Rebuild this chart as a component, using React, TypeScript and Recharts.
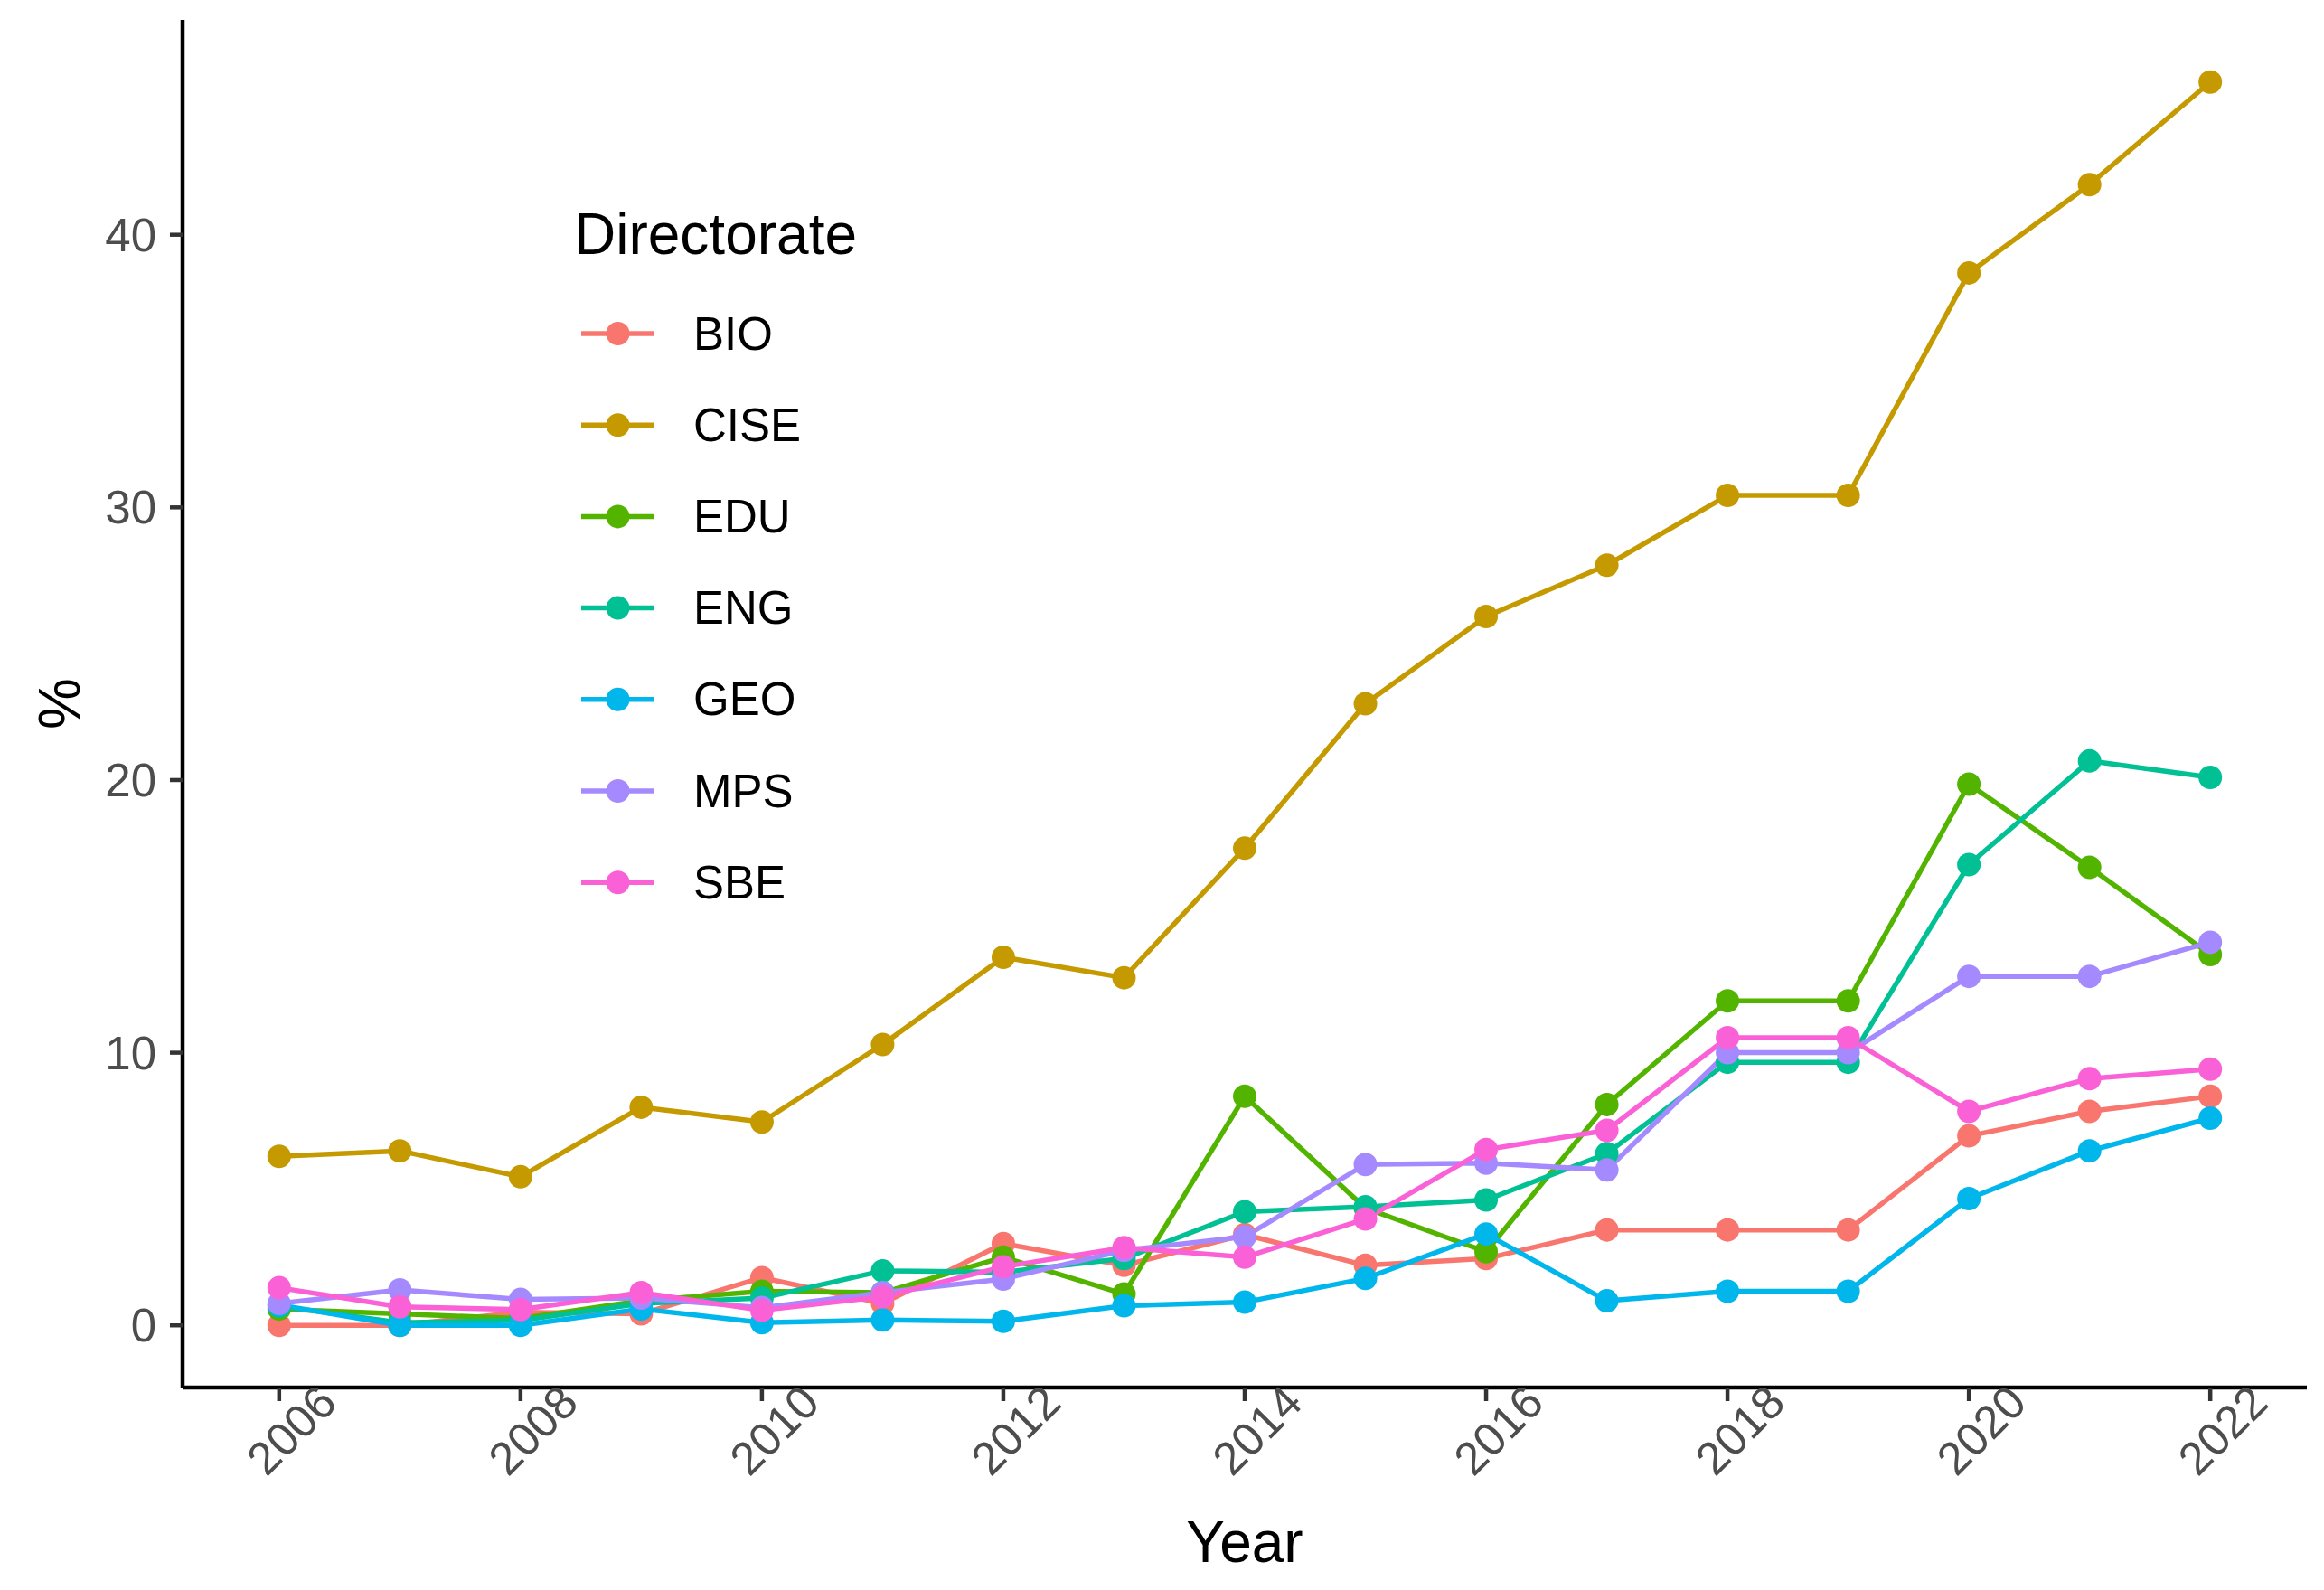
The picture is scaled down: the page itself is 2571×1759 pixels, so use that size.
import React from 'react';
import { LineChart, Line, XAxis, YAxis, Legend } from 'recharts';

const FONT = '"Liberation Sans", Arial, Helvetica, sans-serif';

const YEARS = [2006, 2007, 2008, 2009, 2010, 2011, 2012, 2013, 2014, 2015, 2016, 2017, 2018, 2019, 2020, 2021, 2022];
const X_TICKS = [2006, 2008, 2010, 2012, 2014, 2016, 2018, 2020, 2022];
const Y_TICKS = [0, 10, 20, 30, 40];

const BIO = [0, 0, 0.48, 0.42, 1.75, 0.8, 3.0, 2.2, 3.33, 2.2, 2.45, 3.5, 3.5, 3.5, 6.95, 7.85, 8.4];
const CISE = [6.2, 6.4, 5.45, 8.0, 7.46, 10.3, 13.5, 12.75, 17.5, 22.8, 26.0, 27.88, 30.44, 30.44, 38.6, 41.84, 45.6];
const EDU = [0.6, 0.42, 0.25, 0.9, 1.25, 1.2, 2.5, 1.15, 8.4, 4.3, 2.7, 8.1, 11.9, 11.9, 19.85, 16.8, 13.6];
const ENG = [0.7, 0.1, 0.18, 0.8, 1.0, 2.0, 1.95, 2.45, 4.17, 4.35, 4.6, 6.3, 9.65, 9.65, 16.9, 20.7, 20.1];
const GEO = [0.75, 0, 0, 0.6, 0.1, 0.2, 0.15, 0.72, 0.85, 1.72, 3.35, 0.9, 1.25, 1.25, 4.65, 6.4, 7.6];
const MPS = [0.8, 1.3, 0.95, 1.0, 0.65, 1.2, 1.7, 2.75, 3.25, 5.9, 5.95, 5.7, 10.0, 10.0, 12.8, 12.8, 14.05];
const SBE = [1.38, 0.68, 0.58, 1.2, 0.55, 1.05, 2.15, 2.85, 2.5, 3.9, 6.45, 7.15, 10.55, 10.55, 7.85, 9.05, 9.4];

const SERIES = [
  { key: 'BIO', color: '#F8766D', values: BIO },
  { key: 'CISE', color: '#C49A00', values: CISE },
  { key: 'EDU', color: '#53B400', values: EDU },
  { key: 'ENG', color: '#00C094', values: ENG },
  { key: 'GEO', color: '#00B6EB', values: GEO },
  { key: 'MPS', color: '#A58AFF', values: MPS },
  { key: 'SBE', color: '#FB61D7', values: SBE },
];

const data = YEARS.map((year, i) => {
  const row: Record<string, number> = { year };
  SERIES.forEach((s) => {
    row[s.key] = s.values[i];
  });
  return row;
});

const W = 2560;
const H = 1750;
const LINE_W = 5.5;
const DOT_R = 13;

const XTick = (props: any) => {
  const { x, y, payload } = props;
  return (
    <g transform={`translate(${x},${y})`}>
      <text
        transform="rotate(-45)"
        x={-13}
        y={50}
        textAnchor="middle"
        fill="#4D4D4D"
        fontSize={51}
        fontFamily={FONT}
      >
        {payload.value}
      </text>
    </g>
  );
};

const LegendBox = () => (
  <svg width={W} height={H} style={{ position: 'absolute', left: 0, top: 0, pointerEvents: 'none' }}>
    <text x={635} y={281} fontSize={64} fontFamily={FONT} fill="#000">
      Directorate
    </text>
    {SERIES.map((s, i) => {
      const cy = 369 + i * 101.2;
      return (
        <g key={s.key}>
          <line x1={643} x2={724} y1={cy} y2={cy} stroke={s.color} strokeWidth={LINE_W} />
          <circle cx={683.5} cy={cy} r={DOT_R} fill={s.color} />
          <text x={767} y={cy} dominantBaseline="central" fontSize={51} fontFamily={FONT} fill="#000">
            {s.key}
          </text>
        </g>
      );
    })}
  </svg>
);

export default function App() {
  return (
    <div style={{ position: 'absolute', left: 0, top: 0, width: W, height: H, background: '#fff' }}>
      <LineChart
        width={W}
        height={H}
        data={data}
        margin={{ top: 22, right: 8, left: 0, bottom: 15 }}
      >
        <XAxis
          dataKey="year"
          type="number"
          domain={[2005.2, 2022.8]}
          ticks={X_TICKS}
          allowDataOverflow
          height={200}
          tickSize={15}
          tickMargin={0}
          tick={<XTick />}
          axisLine={{ stroke: '#000', strokeWidth: 4.5 }}
          tickLine={{ stroke: '#333', strokeWidth: 4.5 }}
          label={{
            position: 'bottom',
            content: () => (
              <text x={1377} y={1728} textAnchor="middle" fontSize={64} fontFamily={FONT} fill="#000">
                Year
              </text>
            ),
          }}
        />
        <YAxis
          type="number"
          domain={[-2.28, 47.88]}
          ticks={Y_TICKS}
          allowDataOverflow
          width={202}
          tickSize={14}
          tickMargin={15}
          tick={{ fill: '#4D4D4D', fontSize: 51, fontFamily: FONT }}
          axisLine={{ stroke: '#000', strokeWidth: 4.5 }}
          tickLine={{ stroke: '#333', strokeWidth: 4.5 }}
          label={{
            position: 'insideLeft',
            content: (p: any) => {
              const vb = p.viewBox || { y: 22, height: 1513 };
              const cy = vb.y + vb.height / 2;
              return (
                <text
                  x={66}
                  y={cy}
                  transform={`rotate(-90, 66, ${cy})`}
                  textAnchor="middle"
                  dominantBaseline="central"
                  fontSize={64}
                  fontFamily={FONT}
                  fill="#000"
                >
                  %
                </text>
              );
            },
          }}
        />
        {SERIES.map((s) => (
          <Line
            key={`line-${s.key}`}
            dataKey={s.key}
            stroke={s.color}
            strokeWidth={LINE_W}
            strokeLinejoin="round"
            type="linear"
            dot={false}
            activeDot={false}
            legendType="none"
            isAnimationActive={false}
          />
        ))}
        {SERIES.map((s) => (
          <Line
            key={`pt-${s.key}`}
            dataKey={s.key}
            stroke="none"
            strokeWidth={0}
            type="linear"
            dot={{ r: DOT_R, fill: s.color, stroke: 'none' }}
            activeDot={false}
            legendType="none"
            isAnimationActive={false}
          />
        ))}
        <Legend
          layout="horizontal"
          verticalAlign="middle"
          align="center"
          content={() => <LegendBox />}
          wrapperStyle={{ position: 'absolute', left: 0, top: 0, width: W, height: H, pointerEvents: 'none' }}
        />
      </LineChart>
    </div>
  );
}
